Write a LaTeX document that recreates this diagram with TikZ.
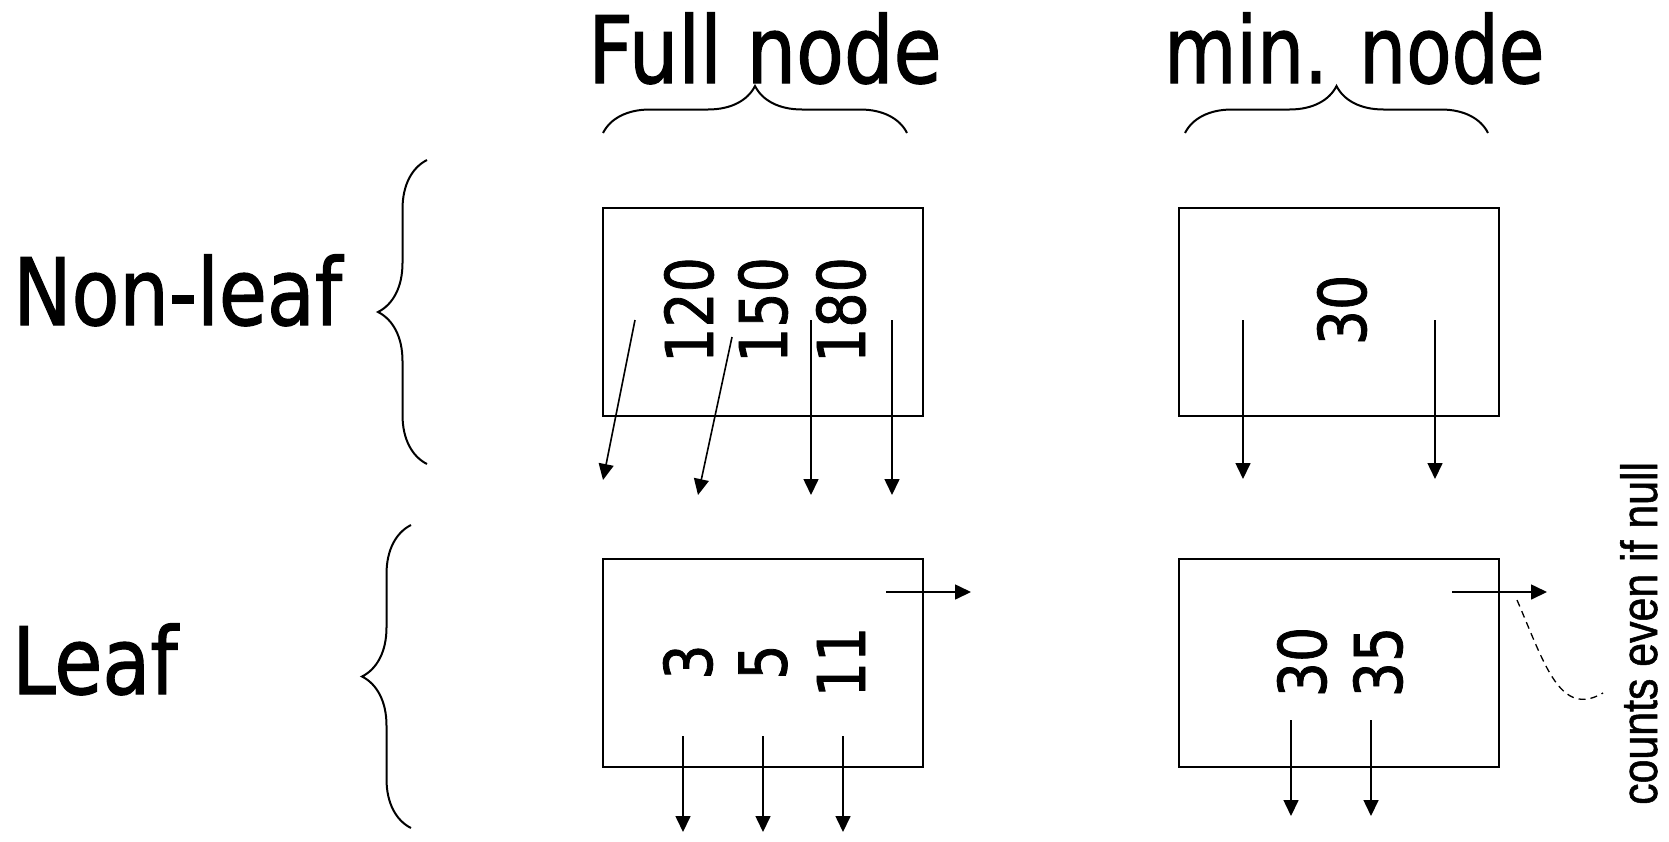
\documentclass[tikz,border=0pt]{standalone}
\usepackage{fontspec}
\usepackage{tikz}
\usetikzlibrary{arrows.meta,decorations.pathreplacing}
\newfontfamily\slidefont{DejaVu Sans}[FakeStretch=0.84,FakeBold=1.2]
\newfontfamily\notefont{Liberation Sans}[FakeStretch=0.84,FakeBold=1]
\tikzset{
  >={Triangle[length=16pt,width=15pt]},
  nodebox/.style={draw,line width=2pt,minimum width=320pt,minimum height=208pt,inner sep=0pt},
  head/.style={anchor=base west,inner sep=0pt,font=\slidefont\fontsize{93}{93}\selectfont},
  keytext/.style={rotate=90,inner sep=0pt,font=\slidefont\fontsize{66}{66}\selectfont},
  ptr/.style={->,line width=1.6pt},
  curly/.style={decorate,decoration={brace,amplitude=#1},line width=2pt},
  curly/.default=48pt,
  note/.style={rotate=90,anchor=base west,inner sep=0pt,font=\notefont\fontsize{51}{51}\selectfont},
}

\begin{document}
\begin{tikzpicture}[x=1pt,y=-1pt]
  \useasboundingbox (0,0) rectangle (1669,841);
  % column heads
  \node[head] (full) at (588,83) {Full node};
  \node[head,xscale=0.95] (min) at (1164,83) {min. node};
  \draw[curly=47pt] (603,133) -- (907,133);
  \draw[curly=47pt] (1185,133) -- (1488,133);
  % row heads
  \node[head] (nonleaf) at (13,325) {Non-leaf};
  \node[head] (leaf) at (12,694) {Leaf};
  \draw[curly=49pt] (427,464) -- (427,160);
  \draw[curly=49pt] (411,828) -- (411,525);

  % the four nodes
  \node[nodebox] (fnl) at (763,312) {};
  \node[nodebox] (mnl) at (1339,312) {};
  \node[nodebox] (fl) at (763,663) {};
  \node[nodebox] (ml) at (1339,663) {};

  % keys
  \node[keytext] (k120) at (689,310) {120};
  \node[keytext] (k150) at (763,310) {150};
  \node[keytext] (k180) at (841,310) {180};
  \node[keytext] (m30) at (1342,310) {30};
  \node[keytext] (k3) at (688,662) {3};
  \node[keytext] (k5) at (763,662) {5};
  \node[keytext] (k11) at (841,662) {11};
  \node[keytext] (l30) at (1302,662) {30};
  \node[keytext] (l35) at (1378,662) {35};

  % pointers
  \foreach \n/\xa/\ya/\xb/\yb in {1/635/320/603/480, 2/732/337/698/495,
      3/811/320/811/495, 4/892/320/892/495, 5/1243/320/1243/479,
      6/1435/320/1435/479, 7/886/592/971/592, 8/683/736/683/832,
      9/763/736/763/832, 10/843/736/843/832, 11/1452/592/1547/592,
      12/1291/720/1291/816, 13/1371/720/1371/816}{
    \coordinate (s\n) at (\xa,\ya);
    \coordinate (e\n) at (\xb,\yb);
    \draw[ptr] (s\n) -- (e\n);
  }

  % remark on the sequence pointer
  \node[note] (cnt) at (1657,805) {counts even if null};
  \coordinate (tail) at (1517,600);
  \coordinate (hook) at (1603,693);
  \draw[line width=1.3pt,dash pattern=on 7pt off 5pt] (tail) .. controls (1545,665) and (1560,718) .. (hook);
\end{tikzpicture}
\end{document}
